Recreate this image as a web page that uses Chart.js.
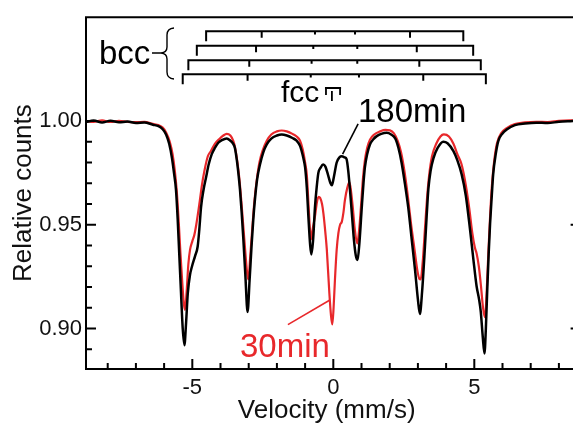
<!DOCTYPE html>
<html>
<head>
<meta charset="utf-8">
<script src="https://cdn.jsdelivr.net/npm/chart.js@4.4.1/dist/chart.umd.min.js"></script>
<style>
  html, body { margin: 0; padding: 0; overflow: hidden; background: #fff; }
  #wrap { position: absolute; left: 0; top: 0; width: 573px; height: 426px; }
</style>
</head>
<body>
<div id="wrap"><canvas id="spectrum" width="573" height="426"></canvas></div>
<script>
// Mössbauer spectra after 180 min and 30 min: velocity (mm/s) vs relative counts
const velocity180 = [
  -8.77, -8.5, -8.2, -7.9, -7.6, -7.3, -7.0, -6.7, -6.4, -6.2, -6.05, -5.93, -5.82, -5.72, -5.65,
  -5.58, -5.52, -5.46, -5.40, -5.34, -5.28, -5.22, -5.16, -5.08, -5.01, -4.90, -4.81, -4.75, -4.69,
  -4.60, -4.51, -4.42, -4.31, -4.20, -4.08, -3.95, -3.78, -3.65, -3.55, -3.49, -3.42, -3.36, -3.31,
  -3.25, -3.19, -3.12, -3.04, -2.97, -2.90, -2.84, -2.78, -2.70, -2.60, -2.48, -2.36, -2.20, -2.00,
  -1.83, -1.65, -1.45, -1.30, -1.18, -1.06, -1.00, -0.94, -0.88, -0.82, -0.78, -0.72, -0.65, -0.59,
  -0.53, -0.45, -0.36, -0.28, -0.18, -0.10, -0.05, 0.02, 0.12, 0.22, 0.30, 0.40, 0.47, 0.53, 0.59,
  0.66, 0.73, 0.80, 0.86, 0.93, 1.01, 1.07, 1.12, 1.20, 1.30, 1.42, 1.54, 1.70, 1.89, 2.05, 2.20,
  2.31, 2.42, 2.54, 2.66, 2.78, 2.90, 3.00, 3.07, 3.15, 3.25, 3.31, 3.37, 3.45, 3.55, 3.70, 3.90,
  4.05, 4.26, 4.40, 4.55, 4.70, 4.85, 4.97, 5.08, 5.17, 5.23, 5.30, 5.36, 5.41, 5.46, 5.51, 5.56,
  5.62, 5.67, 5.76, 5.85, 6.00, 6.15, 6.44, 6.8, 7.2, 7.6, 8.0, 8.4, 8.77
];
const counts180 = [
  0.9995, 1.0002, 0.9993, 1.0001, 0.9994, 0.9997, 0.9990, 0.9993, 0.9982, 0.9975, 0.9960, 0.9935, 0.9890, 0.9820, 0.9750,
  0.9670, 0.9530, 0.9350, 0.9170, 0.9000, 0.8920, 0.9030, 0.9170, 0.9260, 0.9300, 0.9350, 0.9395, 0.9480, 0.9585,
  0.9670, 0.9730, 0.9790, 0.9840, 0.9870, 0.9895, 0.9908, 0.9916, 0.9905, 0.9890, 0.9870, 0.9810, 0.9740, 0.9670,
  0.9560, 0.9430, 0.9260, 0.9080, 0.9230, 0.9395, 0.9520, 0.9620, 0.9720, 0.9790, 0.9850, 0.9887, 0.9915, 0.9930,
  0.9935, 0.9930, 0.9918, 0.9905, 0.9880, 0.9820, 0.9776, 0.9680, 0.9530, 0.9400, 0.9357, 0.9420, 0.9585, 0.9680,
  0.9750, 0.9775, 0.9790, 0.9780, 0.9737, 0.9700, 0.9690, 0.9730, 0.9800, 0.9825, 0.9830, 0.9825, 0.9816, 0.9760, 0.9670,
  0.9550, 0.9430, 0.9350, 0.9330, 0.9420, 0.9585, 0.9700, 0.9776, 0.9840, 0.9887, 0.9912, 0.9927, 0.9938, 0.9943, 0.9935, 0.9915,
  0.9870, 0.9800, 0.9697, 0.9580, 0.9430, 0.9280, 0.9140, 0.9070, 0.9180, 0.9395, 0.9540, 0.9670, 0.9760, 0.9820, 0.9870, 0.9900,
  0.9893, 0.9855, 0.9810, 0.9744, 0.9640, 0.9475, 0.9330, 0.9205, 0.9140, 0.9080, 0.8960, 0.8880, 0.9000, 0.9190, 0.9360, 0.9506,
  0.9640, 0.9744, 0.9840, 0.9903, 0.9940, 0.9959, 0.9980, 0.9988, 0.9992, 0.9990, 0.9996, 0.9999, 1.0001
];

const velocity30 = [
  -8.77, -8.5, -8.2, -7.9, -7.6, -7.3, -7.0, -6.7, -6.4, -6.2, -6.05, -5.93, -5.80, -5.70, -5.62,
  -5.55, -5.48, -5.42, -5.36, -5.30, -5.26, -5.20, -5.14, -5.08, -5.00, -4.93, -4.86, -4.75, -4.66,
  -4.57, -4.45, -4.34, -4.20, -4.05, -3.90, -3.78, -3.65, -3.55, -3.48, -3.40, -3.33, -3.26, -3.19,
  -3.11, -3.05, -3.01, -2.95, -2.88, -2.80, -2.72, -2.62, -2.50, -2.36, -2.20, -2.00, -1.83, -1.65,
  -1.45, -1.30, -1.18, -1.08, -1.00, -0.94, -0.88, -0.83, -0.79, -0.73, -0.65, -0.58, -0.52, -0.47,
  -0.40, -0.35, -0.28, -0.23, -0.14, -0.08, -0.035, 0.01, 0.06, 0.12, 0.18, 0.24, 0.30, 0.36, 0.41,
  0.50, 0.57, 0.63, 0.69, 0.76, 0.85, 0.92, 0.98, 1.05, 1.12, 1.20, 1.30, 1.45, 1.66, 1.85, 2.01,
  2.15, 2.28, 2.40, 2.52, 2.64, 2.76, 2.88, 2.98, 3.05, 3.10, 3.17, 3.25, 3.32, 3.40, 3.50, 3.65,
  3.80, 3.92, 4.10, 4.26, 4.40, 4.55, 4.70, 4.82, 4.93, 5.02, 5.08, 5.16, 5.24, 5.31, 5.38, 5.44,
  5.50, 5.56, 5.62, 5.70, 5.80, 5.95, 6.15, 6.44, 6.8, 7.2, 7.6, 8.0, 8.4, 8.77
];
const counts30 = [
  1.0000, 0.9996, 1.0003, 0.9995, 1.0001, 0.9996, 0.9994, 0.9996, 0.9986, 0.9980, 0.9968, 0.9945, 0.9900, 0.9840, 0.9760,
  0.9660, 0.9510, 0.9360, 0.9230, 0.9120, 0.9090, 0.9180, 0.9310, 0.9380, 0.9420, 0.9450, 0.9500, 0.9600, 0.9690,
  0.9760, 0.9830, 0.9855, 0.9890, 0.9912, 0.9930, 0.9938, 0.9930, 0.9905, 0.9870, 0.9800, 0.9720, 0.9610, 0.9490,
  0.9350, 0.9260, 0.9237, 0.9340, 0.9470, 0.9610, 0.9710, 0.9800, 0.9860, 0.9905, 0.9935, 0.9950, 0.9954, 0.9950,
  0.9938, 0.9925, 0.9905, 0.9860, 0.9800, 0.9740, 0.9600, 0.9480, 0.9430, 0.9480, 0.9540, 0.9610, 0.9635, 0.9630,
  0.9600, 0.9554, 0.9460, 0.9380, 0.9170, 0.9060, 0.9020, 0.9100, 0.9240, 0.9380, 0.9460, 0.9500, 0.9514, 0.9560, 0.9617,
  0.9680, 0.9705, 0.9660, 0.9585, 0.9480, 0.9410, 0.9480, 0.9585, 0.9720, 0.9810, 0.9870, 0.9910, 0.9935, 0.9950, 0.9957, 0.9955,
  0.9940, 0.9905, 0.9850, 0.9760, 0.9640, 0.9500, 0.9380, 0.9280, 0.9240, 0.9237, 0.9320, 0.9480, 0.9620, 0.9740, 0.9830, 0.9890,
  0.9925, 0.9935, 0.9925, 0.9890, 0.9840, 0.9790, 0.9690, 0.9580, 0.9460, 0.9390, 0.9363, 0.9300, 0.9200, 0.9100, 0.9054, 0.9180,
  0.9370, 0.9540, 0.9680, 0.9800, 0.9890, 0.9940, 0.9965, 0.9985, 0.9993, 0.9996, 0.9995, 1.0001, 1.0003, 1.0003
];

// Axis ticks
const xMajorTicks = [-5, 0, 5];
const xMinorTicks = [-8, -7, -6, -4, -3, -2, -1, 1, 2, 3, 4, 6, 7, 8];
const yMajorTicks = [0.90, 0.95, 1.00];
const yMinorTicks = [0.89, 0.91, 0.92, 0.93, 0.94, 0.96, 0.97, 0.98, 0.99];
// the right-hand axis sits at this velocity, just past the visible window
const rightAxisVelocity = 8.77;

// bcc sextet stick diagrams (line positions in mm/s) and their heights
const bccSextets = [
  [-4.51, -2.54, -0.65, 0.77, 2.72, 4.61],
  [-4.84, -2.74, -0.71, 0.85, 2.96, 4.96],
  [-5.14, -2.98, -0.77, 0.85, 3.05, 5.23],
  [-5.34, -3.04, -0.80, 0.91, 3.19, 5.41]
];
const bccLevels = [1.0432, 1.0363, 1.0292, 1.0225];
// fcc marker lines (mm/s)
const fccMarker = [-0.26, -0.05, 0.24];

const FONT = '"Liberation Sans", Arial, Helvetica, sans-serif';
const RED = '#e8282b';

const toPoints = (xs, ys) => xs.map((v, i) => ({ x: v, y: ys[i] }));

const decorations = {
  id: 'decorations',
  afterDatasetsDraw(chart) {
    const { ctx, chartArea: a, scales: { x, y } } = chart;
    const rightX = x.getPixelForValue(rightAxisVelocity);
    ctx.save();
    ctx.strokeStyle = '#000';
    ctx.fillStyle = '#000';
    ctx.lineCap = 'butt';

    // frame
    ctx.lineWidth = 2;
    ctx.beginPath();
    ctx.moveTo(a.left, a.top); ctx.lineTo(rightX, a.top);
    ctx.lineTo(rightX, a.bottom); ctx.lineTo(a.left, a.bottom);
    ctx.closePath();
    ctx.stroke();

    // inward ticks
    ctx.beginPath();
    const xt = (vals, len) => vals.forEach(v => {
      const px = x.getPixelForValue(v);
      ctx.moveTo(px, a.bottom); ctx.lineTo(px, a.bottom - len);
    });
    const yt = (vals, len) => vals.forEach(v => {
      const py = y.getPixelForValue(v);
      ctx.moveTo(a.left, py); ctx.lineTo(a.left + len, py);
      ctx.moveTo(rightX, py); ctx.lineTo(rightX - len, py);
    });
    xt(xMajorTicks, 10); xt(xMinorTicks, 6);
    yt(yMajorTicks, 10); yt(yMinorTicks, 6);
    ctx.stroke();

    // bcc stick diagrams
    const stickLen = [10, 6.5, 3.3, 3.3, 6.5, 10];
    ctx.lineWidth = 2;
    bccSextets.forEach((lines, k) => {
      const py = y.getPixelForValue(bccLevels[k]);
      const x0 = x.getPixelForValue(lines[0]);
      const x1 = x.getPixelForValue(lines[lines.length - 1]);
      ctx.beginPath();
      ctx.moveTo(x0 - 1, py); ctx.lineTo(x1 + 1, py);
      lines.forEach((v, i) => {
        const px = x.getPixelForValue(v);
        ctx.moveTo(px, py); ctx.lineTo(px, py + stickLen[i]);
      });
      ctx.stroke();
    });

    // brace grouping the bcc sextets
    ctx.lineWidth = 1.4;
    ctx.beginPath();
    ctx.moveTo(174, 28);
    ctx.quadraticCurveTo(167, 28.5, 167, 35);
    ctx.lineTo(167, 47);
    ctx.quadraticCurveTo(167, 52.5, 161, 53);
    ctx.quadraticCurveTo(167, 53.5, 167, 59);
    ctx.lineTo(167, 72);
    ctx.quadraticCurveTo(167, 78.5, 174, 79);
    ctx.moveTo(152, 53); ctx.lineTo(161, 53);
    ctx.stroke();

    // fcc marker
    ctx.lineWidth = 1.8;
    const fl = x.getPixelForValue(fccMarker[0]);
    const fm = x.getPixelForValue(fccMarker[1]);
    const fr = x.getPixelForValue(fccMarker[2]);
    ctx.beginPath();
    ctx.moveTo(fl - 1, 88); ctx.lineTo(fr + 1, 88);
    ctx.moveTo(fl, 88); ctx.lineTo(fl, 95);
    ctx.moveTo(fr, 88); ctx.lineTo(fr, 95);
    ctx.moveTo(fm, 91); ctx.lineTo(fm, 101);
    ctx.stroke();

    // text labels
    ctx.textBaseline = 'alphabetic';
    ctx.textAlign = 'left';
    ctx.font = '33px ' + FONT;
    ctx.fillText('bcc', 99, 64);
    ctx.font = '30px ' + FONT;
    ctx.fillText('fcc', 281, 102);
    ctx.font = '33px ' + FONT;
    ctx.fillText('180min', 358, 122);
    ctx.fillStyle = RED;
    ctx.fillText('30min', 240, 357);

    // leader lines
    ctx.lineWidth = 1.6;
    ctx.strokeStyle = '#000';
    ctx.beginPath();
    ctx.moveTo(x.getPixelForValue(0.88), y.getPixelForValue(0.9986));
    ctx.lineTo(x.getPixelForValue(0.33), y.getPixelForValue(0.9840));
    ctx.stroke();
    ctx.strokeStyle = RED;
    ctx.beginPath();
    ctx.moveTo(x.getPixelForValue(-1.61), y.getPixelForValue(0.9019));
    ctx.lineTo(x.getPixelForValue(-0.135), y.getPixelForValue(0.9136));
    ctx.stroke();

    // x-axis title
    ctx.fillStyle = '#111';
    ctx.font = '26px ' + FONT;
    ctx.textAlign = 'center';
    ctx.textBaseline = 'middle';
    ctx.fillText('Velocity (mm/s)', 326.7, 411);
    ctx.restore();
  }
};

new Chart(document.getElementById('spectrum'), {
  type: 'line',
  data: {
    datasets: [
      {
        label: '180min',
        data: toPoints(velocity180, counts180),
        borderColor: '#000',
        borderWidth: 2.5,
        pointRadius: 0,
        cubicInterpolationMode: 'monotone',
        fill: false
      },
      {
        label: '30min',
        data: toPoints(velocity30, counts30),
        borderColor: RED,
        borderWidth: 2.2,
        pointRadius: 0,
        cubicInterpolationMode: 'monotone',
        fill: false
      }
    ]
  },
  options: {
    responsive: false,
    animation: false,
    devicePixelRatio: 1,
    layout: { padding: { top: 13, right: 0, left: 0, bottom: 0 } },
    plugins: { legend: { display: false }, tooltip: { enabled: false } },
    scales: {
      x: {
        type: 'linear',
        min: -8.77,
        max: 8.5,
        grid: { display: false, drawTicks: false },
        border: { display: false },
        afterBuildTicks: s => { s.ticks = xMajorTicks.map(v => ({ value: v })); },
        afterFit: s => { s.height = 57; },
        ticks: {
          autoSkip: false,
          maxRotation: 0,
          padding: 6,
          color: '#111',
          font: { family: FONT, size: 22 },
          callback: v => String(v)
        },
        title: { display: false }
      },
      y: {
        min: 0.8805,
        max: 1.05,
        grid: { display: false, drawTicks: false },
        border: { display: false },
        afterBuildTicks: s => { s.ticks = yMajorTicks.map(v => ({ value: v })); },
        afterFit: s => { s.width = 86; },
        ticks: {
          autoSkip: false,
          padding: 4,
          color: '#111',
          font: { family: FONT, size: 22 },
          callback: v => v.toFixed(2)
        },
        title: {
          display: true,
          text: 'Relative counts',
          color: '#111',
          font: { family: FONT, size: 26 },
          padding: { top: 8, bottom: 0 }
        }
      }
    }
  },
  plugins: [decorations]
});
</script>
</body>
</html>
